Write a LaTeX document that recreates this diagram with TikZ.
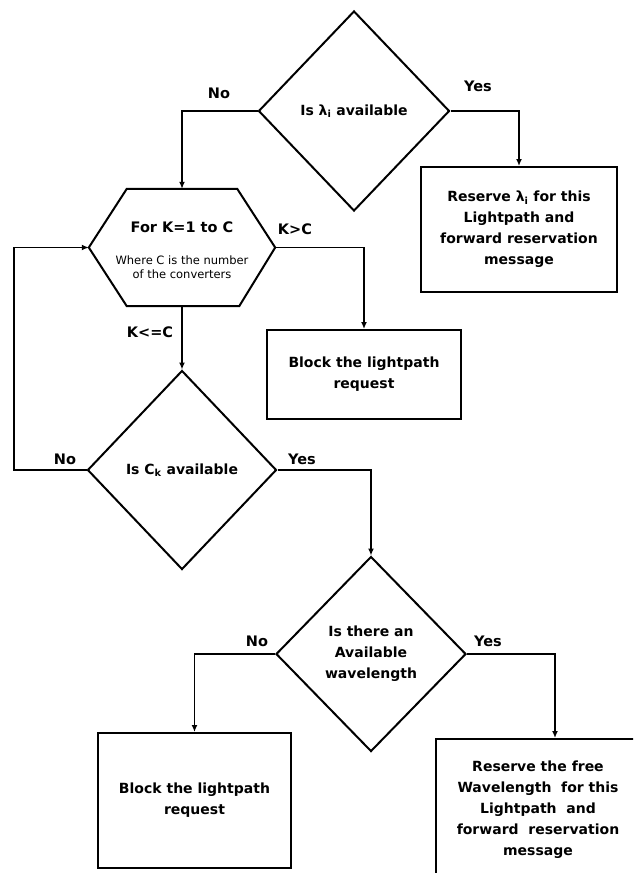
\documentclass[tikz,border=0pt]{standalone}
\usepackage{fontspec}
\setmainfont{DejaVu Sans}
\usetikzlibrary{shapes.geometric,arrows.meta,calc}

\tikzset{
  shapeline/.style={draw=black, line width=2pt},
  decision/.style={shapeline, diamond, inner sep=0pt, align=center,
    font=\fontsize{14}{21}\selectfont\bfseries},
  actionbox/.style={shapeline, rectangle, inner sep=0pt, align=center,
    font=\fontsize{14}{21}\selectfont\bfseries},
  boxtext/.style={inner sep=0pt, align=center,
    font=\fontsize{14.5}{21}\selectfont\bfseries},
  branch/.style={inner sep=0pt, font=\fontsize{14.5}{17}\selectfont\bfseries},
  notetext/.style={inner sep=0pt, align=center,
    font=\fontsize{11.5}{14}\selectfont},
  flow/.style={draw=black, line width=1.5pt,
    -{Latex[length=7pt,width=6pt]}}
}

\begin{document}
\begin{tikzpicture}[x=1pt,y=-1pt]
  \clip (0,0) rectangle (633,873);
  \fill[white] (0,0) rectangle (633,873);

  % decisions
  \node[decision, minimum width=191pt, minimum height=200pt] (d1) at (354,111)
    {Is λ\textsubscript{i} available};
  \node[decision, minimum width=189pt, minimum height=199pt] (d2) at (182,470)
    {Is C\textsubscript{k} available};
  \node[decision, minimum width=190pt, minimum height=195pt] (d3) at (371,654)
    {Is there an\\Available\\wavelength};

  % loop header (hexagon)
  \node[minimum width=186pt, minimum height=117pt, inner sep=0pt] (hex) at (182,247.5) {};
  \draw[shapeline, line join=miter]
    (hex.west) -- ([xshift=38pt]hex.north west) -- ([xshift=-38pt]hex.north east)
    -- (hex.east) -- ([xshift=-36pt]hex.south east) -- ([xshift=38pt]hex.south west)
    -- cycle;
  \node[boxtext] (hextitle) at (182,227) {For K=1 to C};
  \node[notetext] (hexnote) at (182,267) {Where C is the number\\of the converters};

  % action boxes
  \node[actionbox, minimum width=196pt, minimum height=125pt] (box1) at (519,229.5)
    {Reserve λ\textsubscript{i} for this\\Lightpath and\\forward reservation\\message};
  \node[actionbox, minimum width=194pt, minimum height=89pt] (box2) at (364,374.5)
    {Block the lightpath\\request};
  \node[actionbox, minimum width=193pt, minimum height=135pt] (box3) at (194.5,800.5)
    {Block the lightpath\\request};
  \node[actionbox, minimum width=204pt, minimum height=141pt] (box4) at (538,809.5)
    {Reserve the free\\Wavelength~ for this\\Lightpath~ and\\forward~ reservation\\message};

  % connectors
  \draw[flow] (d1.west) -| (hex.north);
  \draw[flow] (d1.east) -| (box1.north);
  \draw[flow] (hex.east) -| (box2.north);
  \draw[flow] (hex.south) -- (d2.north);
  \coordinate (loopcorner) at (14,470);
  \draw[flow] (d2.west) -- (loopcorner) |- (hex.west);
  \draw[flow] (d2.east) -| (d3.north);
  \draw[flow] (d3.west) -| (box3.north);
  \draw[flow] (d3.east) -| ([xshift=17pt]box4.north);

  % branch labels
  \node[branch] (l1no)  at (219,93)  {No};
  \node[branch] (l1yes) at (478,86)  {Yes};
  \node[branch] (lkgt)  at (295,229) {K>C};
  \node[branch] (lkle)  at (150,332) {K<=C};
  \node[branch] (l2no)  at (65,459)  {No};
  \node[branch] (l2yes) at (302,459) {Yes};
  \node[branch] (l3no)  at (257,641) {No};
  \node[branch] (l3yes) at (488,641) {Yes};
\end{tikzpicture}
\end{document}
